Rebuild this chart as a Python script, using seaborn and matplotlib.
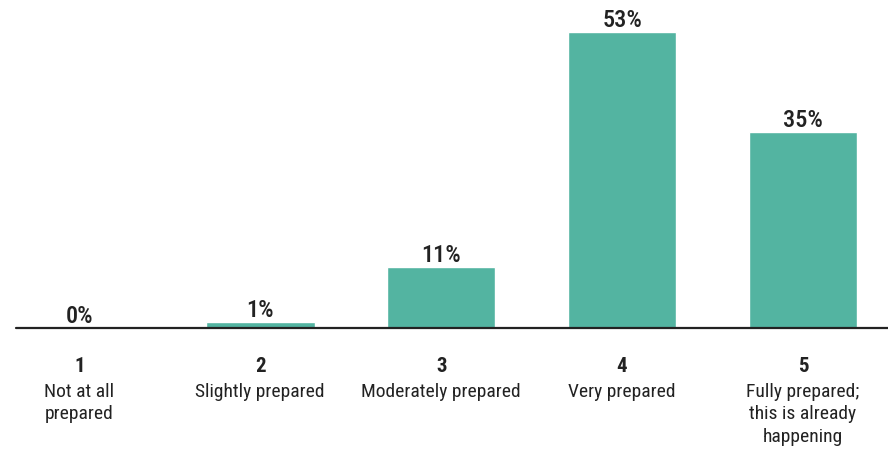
import matplotlib
matplotlib.use("Agg")
import matplotlib.pyplot as plt
import seaborn as sns
import pandas as pd

# Survey responses: preparedness scale
scale_points = ["1", "2", "3", "4", "5"]
scale_labels = [
    "Not at all\nprepared",
    "Slightly prepared",
    "Moderately prepared",
    "Very prepared",
    "Fully prepared;\nthis is already\nhappening",
]
shares = [0, 1, 11, 53, 35]

df = pd.DataFrame({"point": scale_points, "share": shares})

sns.set_theme(style="white")
plt.rcParams["font.family"] = ["Roboto Condensed", "Archivo Narrow",
                               "Fira Sans Condensed", "DejaVu Sans"]

TEXT = "#222222"
BAR = "#53b4a1"

fig = plt.figure(figsize=(8.88, 4.51), dpi=100)
ax = fig.add_axes([16 / 888, 123 / 451, 1 - 16 / 888, 328 / 451])

sns.barplot(data=df, x="point", y="share", order=scale_points,
            color=BAR, width=0.6, saturation=1, ax=ax)

ax.set_xlim(-0.35, 4.47)
ax.set_ylim(0, 58.7)
ax.axis("off")
ax.axhline(0, color=TEXT, lw=1.6, clip_on=False, zorder=3)

for i, (num, lab, val) in enumerate(zip(scale_points, scale_labels, shares)):
    ax.annotate(f"{val}%", xy=(i, val), xytext=(0, 5), textcoords="offset pixels",
                ha="center", va="baseline", fontsize=17.5, fontweight="medium",
                color=TEXT)
    ax.annotate(num, xy=(i, 0), xytext=(0, -38), textcoords="offset pixels",
                ha="center", va="center", fontsize=15, fontweight="bold",
                color=TEXT, annotation_clip=False)
    ax.annotate(lab, xy=(i, 0), xytext=(0, -55), textcoords="offset pixels",
                ha="center", va="top", fontsize=14, color=TEXT,
                linespacing=1.32, annotation_clip=False)

fig.savefig("out.png", dpi=100)
